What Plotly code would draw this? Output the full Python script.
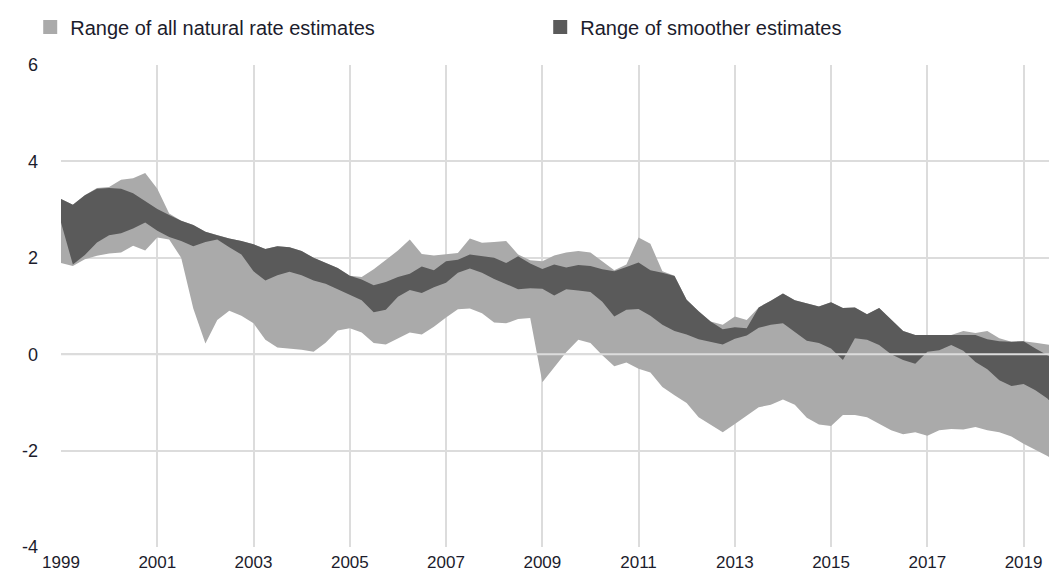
import pandas as pd
import plotly.graph_objs as go

# quarterly estimates of the natural rate of interest, 1999Q1 onwards (percent)
all_low = [
    1.89, 1.83, 1.97, 2.04, 2.09, 2.11, 2.25, 2.15, 2.42, 2.38, 2.00, 0.95,
    0.22, 0.71, 0.90, 0.80, 0.64, 0.30, 0.14, 0.12, 0.09, 0.05, 0.24, 0.49,
    0.54, 0.45, 0.23, 0.20, 0.33, 0.45, 0.41, 0.57, 0.76, 0.93, 0.95, 0.85,
    0.66, 0.64, 0.73, 0.75, -0.58, -0.26, 0.04, 0.30, 0.23, -0.02, -0.25, -0.17,
    -0.30, -0.38, -0.68, -0.85, -1.01, -1.31, -1.47, -1.62, -1.45, -1.28, -1.10, -1.05,
    -0.94, -1.05, -1.32, -1.46, -1.49, -1.26, -1.26, -1.31, -1.44, -1.58, -1.66, -1.62,
    -1.69, -1.58, -1.55, -1.56, -1.51, -1.58, -1.62, -1.71, -1.86, -1.99, -2.11, -2.30,
]
all_high = [
    3.22, 3.10, 3.30, 3.45, 3.47, 3.62, 3.65, 3.76, 3.43, 2.92, 2.77, 2.68,
    2.54, 2.47, 2.40, 2.35, 2.28, 2.18, 2.24, 2.22, 2.14, 2.00, 1.90, 1.79,
    1.63, 1.60, 1.76, 1.96, 2.15, 2.38, 2.08, 2.05, 2.07, 2.10, 2.40, 2.31,
    2.33, 2.35, 2.07, 1.95, 1.93, 2.05, 2.11, 2.14, 2.11, 1.93, 1.74, 1.86,
    2.42, 2.29, 1.72, 1.63, 1.13, 0.89, 0.68, 0.61, 0.78, 0.71, 0.97, 1.11,
    1.26, 1.12, 1.06, 0.99, 1.08, 0.96, 0.97, 0.83, 0.96, 0.71, 0.48, 0.40,
    0.40, 0.40, 0.40, 0.48, 0.44, 0.48, 0.33, 0.26, 0.27, 0.24, 0.20, 0.16,
]
smooth_low = [
    2.73, 1.86, 2.06, 2.32, 2.47, 2.51, 2.61, 2.73, 2.56, 2.43, 2.35, 2.24,
    2.33, 2.38, 2.22, 2.07, 1.72, 1.53, 1.64, 1.71, 1.64, 1.53, 1.46, 1.35,
    1.23, 1.12, 0.87, 0.92, 1.19, 1.33, 1.27, 1.39, 1.48, 1.69, 1.78, 1.69,
    1.56, 1.46, 1.35, 1.37, 1.36, 1.22, 1.35, 1.32, 1.29, 1.09, 0.78, 0.92,
    0.94, 0.80, 0.61, 0.48, 0.41, 0.31, 0.26, 0.20, 0.32, 0.39, 0.55, 0.61,
    0.64, 0.46, 0.28, 0.23, 0.12, -0.12, 0.33, 0.30, 0.19, 0.00, -0.12, -0.20,
    0.05, 0.08, 0.19, 0.07, -0.16, -0.31, -0.54, -0.66, -0.62, -0.75, -0.92, -1.20,
]
smooth_high = [
    3.22, 3.10, 3.30, 3.43, 3.45, 3.43, 3.34, 3.17, 3.01, 2.89, 2.77, 2.68,
    2.54, 2.47, 2.40, 2.35, 2.28, 2.18, 2.24, 2.22, 2.14, 2.00, 1.90, 1.79,
    1.63, 1.55, 1.43, 1.50, 1.60, 1.67, 1.82, 1.74, 1.93, 1.96, 2.07, 2.03,
    2.00, 1.89, 2.03, 1.88, 1.77, 1.86, 1.80, 1.85, 1.83, 1.76, 1.72, 1.81,
    1.90, 1.74, 1.69, 1.62, 1.13, 0.89, 0.68, 0.52, 0.56, 0.54, 0.97, 1.11,
    1.26, 1.12, 1.06, 0.99, 1.08, 0.96, 0.97, 0.83, 0.96, 0.71, 0.48, 0.40,
    0.40, 0.40, 0.40, 0.40, 0.40, 0.31, 0.27, 0.26, 0.27, 0.12, -0.02, -0.14,
]
quarters = pd.date_range("1999-01-01", periods=len(all_low), freq="QS")

y_ticks = [-4, -2, 0, 2, 4, 6]
y_tick_labels = ["-4", "-2", "0", "2", "4", "6"]

light_grey = "#aaaaaa"
dark_grey = "#5a5a5a"
text_colour = "#1c1c2c"

fig = go.Figure()

# light band: range of all estimates
fig.add_trace(go.Scatter(x=quarters, y=all_low, mode="lines", line={"width": 0},
                         showlegend=False, hoverinfo="skip"))
fig.add_trace(go.Scatter(x=quarters, y=all_high, mode="lines", line={"width": 0},
                         fill="tonexty", fillcolor=light_grey, showlegend=False))

# dark band: range of smoother estimates
fig.add_trace(go.Scatter(x=quarters, y=smooth_low, mode="lines", line={"width": 0},
                         showlegend=False, hoverinfo="skip"))
fig.add_trace(go.Scatter(x=quarters, y=smooth_high, mode="lines", line={"width": 0},
                         fill="tonexty", fillcolor=dark_grey, showlegend=False))

# legend entries as square markers
fig.add_trace(go.Scatter(x=[None], y=[None], mode="markers", name="Range of all natural rate estimates",
                         marker={"symbol": "square", "size": 14, "color": light_grey}))
fig.add_trace(go.Scatter(x=[None], y=[None], mode="markers", name="Range of smoother estimates",
                         marker={"symbol": "square", "size": 14, "color": dark_grey}))

# the page body adds an 8px offset, so margins are measured from there
fig.update_layout(
    width=1057,
    height=574,
    plot_bgcolor="white",
    paper_bgcolor="white",
    margin={"l": 53, "r": 11, "t": 57, "b": 35, "autoexpand": False},
    font={"family": "Liberation Sans, Arial, sans-serif", "size": 18, "color": text_colour},
    showlegend=True,
    legend={
        "orientation": "h",
        "traceorder": "normal",
        "x": -0.031,
        "xanchor": "left",
        "y": 1.079,
        "yanchor": "middle",
        "entrywidth": 465,
        "font": {"size": 20},
        "bgcolor": "rgba(0,0,0,0)",
    },
    # zero line sits on top of the shaded bands
    shapes=[{
        "type": "line", "xref": "paper", "yref": "y", "x0": 0, "x1": 1, "y0": 0, "y1": 0,
        "line": {"color": "#dcdcdc", "width": 2}, "layer": "above",
    }],
)
fig.update_xaxes(
    type="date",
    range=["1999-01-01", "2019-08-20"],
    tick0="1999-01-01",
    dtick="M24",
    tickformat="%Y",
    showgrid=True,
    gridcolor="#dcdcdc",
    gridwidth=2,
    zeroline=False,
    showline=False,
    ticks="",
    automargin=False,
    tickfont={"size": 17},
    ticklabelstandoff=3,
)
fig.update_yaxes(
    range=[-4, 6],
    tickvals=y_ticks,
    ticktext=y_tick_labels,
    showgrid=True,
    gridcolor="#dcdcdc",
    gridwidth=2,
    zeroline=False,
    showline=False,
    ticks="",
    automargin=False,
    ticklabelstandoff=22,
)

fig.write_html("out.html")
